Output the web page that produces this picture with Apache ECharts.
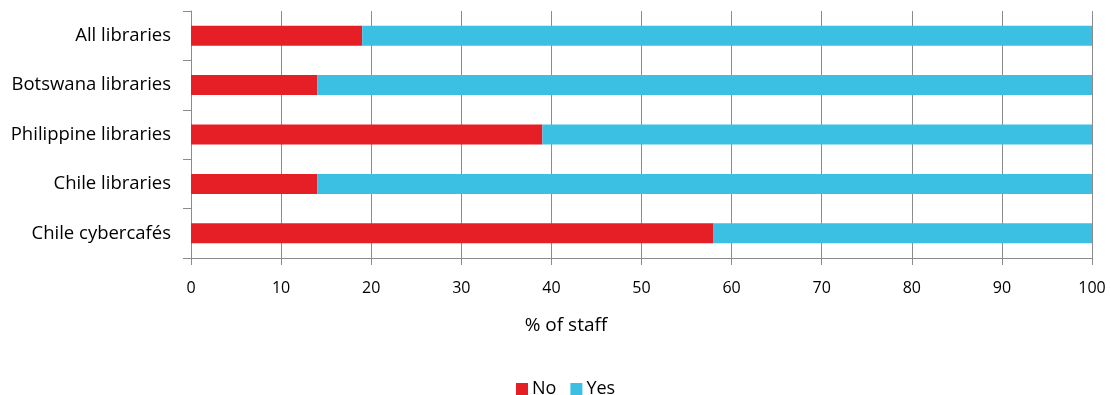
<!DOCTYPE html>
<html>
<head>
<meta charset="utf-8">
<script src="https://cdn.jsdelivr.net/npm/echarts@6/dist/echarts.min.js"></script>
<style>
  html, body { margin: 0; padding: 0; background: #fff; }
  #chart { width: 1110px; height: 395px; }
</style>
</head>
<body>
<div id="chart"></div>
<script>
// Share of staff answering No / Yes, by site type
const categories = ['All libraries', 'Botswana libraries', 'Philippine libraries', 'Chile libraries', 'Chile cybercafés'];
const noValues = [19, 14, 39, 14, 58];
const yesValues = [81, 86, 61, 86, 42];
const xTicks = [0, 10, 20, 30, 40, 50, 60, 70, 80, 90, 100];
const xAxisTitle = '% of staff';

const font = '"Open Sans", Lato, sans-serif';
const axisGray = '#8c8c8c';

const chart = echarts.init(document.getElementById('chart'), null, { renderer: 'canvas' });
chart.setOption({
  animation: false,
  textStyle: { fontFamily: font, color: '#000' },
  grid: { left: 191, right: 18, top: 11, bottom: 137 },
  // axis caption, centred under the whole figure rather than the plot
  title: {
    text: xAxisTitle,
    left: 566,
    top: 316,
    textAlign: 'center',
    padding: 0,
    textStyle: { fontFamily: font, fontSize: 19, fontWeight: 'normal', color: '#000' }
  },
  legend: {
    top: 375,
    left: 511,
    itemWidth: 12,
    itemHeight: 12,
    itemGap: 14,
    icon: 'rect',
    textStyle: { fontFamily: font, fontSize: 18, color: '#000', padding: [0, 0, 0, -1] },
    data: ['No', 'Yes']
  },
  xAxis: {
    type: 'value',
    min: 0,
    max: 100,
    interval: 10,
    axisLine: { show: true, lineStyle: { color: axisGray, width: 1 } },
    axisTick: { show: true, length: 7, lineStyle: { color: axisGray } },
    axisLabel: {
      margin: 22,
      fontFamily: font,
      fontSize: 16,
      color: '#000',
      formatter: v => (xTicks.indexOf(v) >= 0 ? String(v) : '')
    },
    splitLine: { show: true, lineStyle: { color: axisGray, width: 1 } }
  },
  yAxis: {
    type: 'category',
    inverse: true,
    data: categories,
    axisLine: { show: true, lineStyle: { color: axisGray, width: 1 } },
    axisTick: { show: true, length: 8, lineStyle: { color: axisGray } },
    axisLabel: { margin: 20, fontFamily: font, fontSize: 18.5, color: '#000' },
    splitLine: { show: false }
  },
  series: [
    {
      name: 'No',
      type: 'bar',
      stack: 'total',
      barWidth: 20,
      itemStyle: { color: '#E61F26' },
      data: noValues
    },
    {
      name: 'Yes',
      type: 'bar',
      stack: 'total',
      barWidth: 20,
      itemStyle: { color: '#3BBFE3' },
      data: yesValues
    }
  ]
});
</script>
</body>
</html>
